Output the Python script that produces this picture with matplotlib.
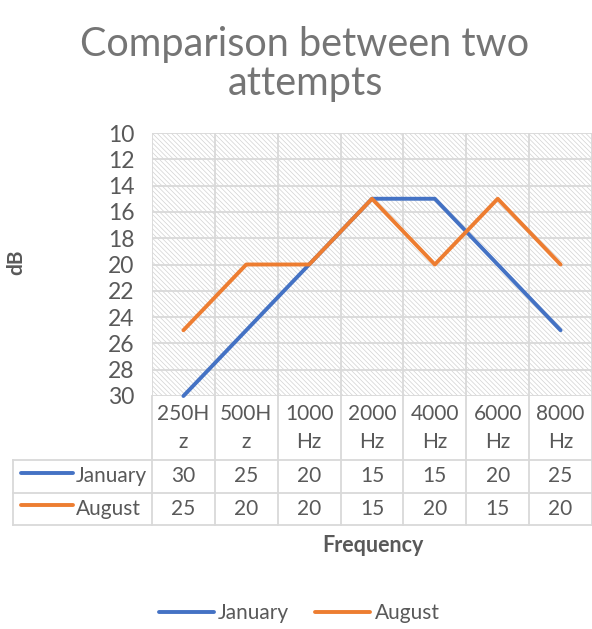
import numpy as np
import matplotlib.pyplot as plt
from matplotlib.patches import Rectangle
from matplotlib.lines import Line2D

# chart data
freq_labels = ["250H\nz", "500H\nz", "1000\nHz", "2000\nHz", "4000\nHz", "6000\nHz", "8000\nHz"]
january = [30, 25, 20, 15, 15, 20, 25]
august = [25, 20, 20, 15, 20, 15, 20]
series_names = ["January", "August"]
series_colors = ["#4472C4", "#ED7D31"]

TEXT = "#595959"
GRID = "#d9d9d9"
FS = 15
plt.rcParams["font.family"] = ["Lato", "DejaVu Sans"]
plt.rcParams["hatch.color"] = "#d2d2d2"
plt.rcParams["hatch.linewidth"] = 0.5

W, H = 592, 629
fig = plt.figure(figsize=(W / 100, H / 100), dpi=100)
ax_l, ax_r, ax_t, ax_b = 152, 592, 133, 396
ax = fig.add_axes([ax_l / W, 1 - ax_b / H, (ax_r - ax_l) / W, (ax_b - ax_t) / H])
ax_wpx, ax_hpx = ax_r - ax_l, ax_b - ax_t

n = len(freq_labels)
x = np.arange(n)

# hatched plot background
ax.add_patch(Rectangle((0, 0), 1, 1, transform=ax.transAxes, facecolor="white",
                       edgecolor="#d2d2d2", hatch="\\" * 7, linewidth=0, zorder=0))

for yv in range(10, 31, 2):
    ax.axhline(yv, color=GRID, lw=1.3, zorder=1)
for xb in np.arange(-0.5, n, 1.0):
    ax.axvline(xb, color=GRID, lw=1.3, zorder=1)

for vals, name, col in zip([january, august], series_names, series_colors):
    ax.plot(x, vals, color=col, lw=2.8, solid_capstyle="round", zorder=3,
            label=name, clip_on=False)

ax.set_xlim(-0.5, n - 0.5)
ax.set_ylim(30, 10)
ax.set_yticks(range(10, 31, 2))
ax.set_xticks([])
ax.tick_params(axis="y", length=0, labelsize=16.5, labelcolor=TEXT, pad=12.5)
for s in ax.spines.values():
    s.set_visible(False)


def ay(px):
    return (ax_b - px) / ax_hpx


def axx(px):
    return (px - ax_l) / ax_wpx


tr = ax.transAxes
kw = dict(transform=tr, clip_on=False, color=GRID, lw=1.3)

# data table
label_left = axx(13)
for py in [460, 493, 525]:
    ax.add_line(Line2D([label_left, 1], [ay(py), ay(py)], **kw))
ax.add_line(Line2D([label_left, label_left], [ay(460), ay(525)], **kw))
for i in range(n + 1):
    ax.add_line(Line2D([i / n, i / n], [0, ay(525)], **kw))

for i, lab in enumerate(freq_labels):
    ax.text((i + 0.5) / n, ay(428), lab, transform=tr, ha="center", va="center",
            fontsize=FS, color=TEXT, linespacing=1.45)

for vals, name, col, py in zip([january, august], series_names, series_colors, [476.5, 509]):
    for i, v in enumerate(vals):
        ax.text((i + 0.5) / n, ay(py), str(v), transform=tr, ha="center",
                va="center", fontsize=FS, color=TEXT)
    ax.add_line(Line2D([axx(21), axx(73)], [ay(py - 4), ay(py - 4)], transform=tr,
                       clip_on=False, color=col, lw=2.8, solid_capstyle="round"))
    ax.text(axx(76), ay(py), name, transform=tr, ha="left", va="center",
            fontsize=FS, color=TEXT)

# titles and labels
fig.text(305 / W, 1 - 64 / H, "Comparison between two\nattempts", ha="center",
         va="center", fontsize=28.5, color="#757575", linespacing=1.05)
fig.text(16 / W, 1 - 262 / H, "dB", rotation=90, ha="center", va="center",
         fontsize=15, fontweight="bold", color=TEXT)
fig.text(373 / W, 1 - 545 / H, "Frequency", ha="center", va="center",
         fontsize=15.5, fontweight="bold", color=TEXT)

handles = [Line2D([], [], color=c, lw=2.8, solid_capstyle="round") for c in series_colors]
leg = fig.legend(handles, series_names, loc="center", ncol=2,
                 bbox_to_anchor=(299 / W, 1 - 613 / H), frameon=False,
                 fontsize=FS, handlelength=2.65, handletextpad=0.2,
                 columnspacing=1.25)
for t in leg.get_texts():
    t.set_color(TEXT)

fig.savefig("out.png", dpi=100)
